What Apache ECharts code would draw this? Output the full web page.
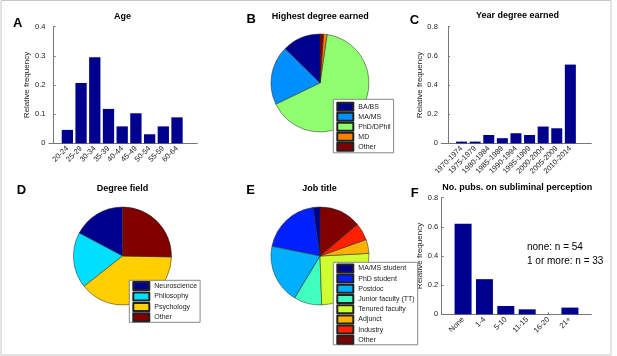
<!DOCTYPE html>
<html>
<head>
<meta charset="utf-8">
<script src="https://cdn.jsdelivr.net/npm/echarts@6/dist/echarts.min.js"></script>
<style>
  html, body { margin: 0; padding: 0; background: #fff; }
  #chart { width: 617px; height: 356px; }
</style>
</head>
<body>
<div id="chart"></div>
<script>
// panel A - age
const ageCats = ['20-24', '25-29', '30-34', '35-39', '40-44', '45-49', '50-54', '55-59', '60-64'];
const ageFreq = [0.046, 0.207, 0.295, 0.118, 0.058, 0.103, 0.031, 0.058, 0.089];
// panel B - highest degree
const degreeNames = ['BA/BS', 'MA/MS', 'PhD/DPhil', 'MD', 'Other'];
const degreeCounts = [11, 17, 57, 1, 1];
// panel C - year degree earned
const yearCats = ['1970-1974', '1975-1979', '1980-1984', '1985-1989', '1990-1994', '1995-1999', '2000-2004', '2005-2009', '2010-2014'];
const yearFreq = [0.0115, 0.0115, 0.057, 0.035, 0.069, 0.057, 0.115, 0.103, 0.54];
// panel D - degree field
const fieldNames = ['Neuroscience', 'Philosophy', 'Psychology', 'Other'];
const fieldCounts = [15, 16, 34, 22];
// panel E - job title
const jobNames = ['MA/MS student', 'PhD student', 'Postdoc', 'Junior faculty (TT)', 'Tenured faculty', 'Adjunct', 'Industry', 'Other'];
const jobCounts = [2, 17, 17, 8, 22, 4, 5, 12];
// panel F - publications
const pubCats = ['None', '1-4', '5-10', '11-15', '16-20', '21+'];
const pubFreq = [0.621, 0.241, 0.057, 0.034, 0, 0.046];
const pubNotes = ['none: n = 54', '1 or more: n = 33'];

const degreeColors = ['#00008f', '#008fff', '#8fff6f', '#ff8000', '#800000'];
const fieldColors = ['#00008f', '#00dfff', '#ffcf00', '#800000'];
const jobColors = ['#00008f', '#0020ff', '#00b0ff', '#40ffbf', '#cfff30', '#ffb000', '#ff2000', '#800000'];

const FONT = '"Liberation Sans", Arial, sans-serif';
const AXIS = '#777';
const BAR = '#00008f';

const chart = echarts.init(document.getElementById('chart'));

function barAxes(idx, cats, xMin, xMax, yMax, step, nameGap) {
  const ticks = cats.map((c, i) => i + 1);
  return {
    x: {
      type: 'value', gridIndex: idx, min: xMin, max: xMax,
      splitLine: {show: false},
      axisLine: {show: true, onZero: false, lineStyle: {color: AXIS, width: 1}},
      axisTick: {show: true, inside: true, length: 2, customValues: ticks, lineStyle: {color: AXIS}},
      axisLabel: {
        customValues: ticks, rotate: 45, margin: 4,
        fontSize: 7.5, color: '#222', fontFamily: FONT,
        formatter: v => cats[Math.round(v) - 1] || ''
      }
    },
    y: {
      type: 'value', gridIndex: idx, min: 0, max: yMax, interval: step,
      name: 'Relative frequency', nameLocation: 'middle', nameGap: nameGap,
      nameTextStyle: {fontSize: 8, color: '#222', fontFamily: FONT},
      splitLine: {show: false},
      axisLine: {show: true, lineStyle: {color: AXIS, width: 1}},
      axisTick: {show: true, inside: true, length: 2, lineStyle: {color: AXIS}},
      axisLabel: {
        margin: 3.5, fontSize: 7.5, color: '#222', fontFamily: FONT,
        formatter: v => String(+v.toFixed(1))
      }
    }
  };
}

const axA = barAxes(0, ageCats, -0.34, 10.48, 0.4, 0.1, 15);
const axC = barAxes(1, yearCats, -0.49, 10.54, 0.8, 0.2, 13.5);
const axF = barAxes(2, pubCats, 0, 7, 0.8, 0.2, 14.5);

function barSeries(idx, vals, w) {
  return {
    type: 'bar', xAxisIndex: idx, yAxisIndex: idx,
    data: vals.map((v, i) => [i + 1, v]),
    barWidth: w,
    itemStyle: {color: BAR},
    silent: true
  };
}

function pieSeries(names, counts, colors, cx, cy) {
  return {
    type: 'pie', center: [cx, cy], radius: 49,
    startAngle: 90, clockwise: false,
    label: {show: false}, labelLine: {show: false},
    emphasis: {disabled: true}, silent: true,
    itemStyle: {borderColor: '#222', borderWidth: 0.5},
    data: names.map((n, i) => ({name: n, value: counts[i], itemStyle: {color: colors[i]}}))
  };
}

function legendBox(names, left, top, width, height, gap, padding) {
  return {
    data: names, orient: 'vertical', left: left, top: top, width: width, height: height,
    icon: 'rect', itemWidth: 16, itemHeight: 8, itemGap: gap,
    padding: padding, borderColor: '#888', borderWidth: 1, backgroundColor: '#fff',
    selectedMode: false,
    textStyle: {fontSize: 7, color: '#222', fontFamily: FONT}
  };
}

function label(text, x, y, size, bold, align) {
  return {
    type: 'text', x: x, y: y, z: 100,
    style: {
      text: text, fontSize: size, fontWeight: bold ? 'bold' : 'normal',
      fontFamily: FONT, fill: '#000',
      textAlign: align || 'center', textVerticalAlign: 'middle'
    }
  };
}

chart.setOption({
  animation: false,
  backgroundColor: '#fff',
  grid: [
    {left: 49, top: 26.7, width: 148.3, height: 116.6, outerBoundsMode: 'none'},
    {left: 441.3, top: 26.7, width: 150, height: 116.6, outerBoundsMode: 'none'},
    {left: 441.7, top: 197.7, width: 149.6, height: 116.6, outerBoundsMode: 'none'}
  ],
  xAxis: [axA.x, axC.x, axF.x],
  yAxis: [axA.y, axC.y, axF.y],
  legend: [
    legendBox(degreeNames, 333.3, 99.3, 60, 60, 0, [2.5, 3, 1, 3]),
    legendBox(fieldNames, 129.3, 280.3, 70, 60, 0.4, [0.8, 3, 0, 3]),
    legendBox(jobNames, 333.3, 262.3, 90, 90, 0.2, [1.1, 3, 0, 3])
  ],
  series: [
    barSeries(0, ageFreq, 11.3),
    barSeries(1, yearFreq, 11),
    barSeries(2, pubFreq, 17),
    pieSeries(degreeNames, degreeCounts, degreeColors, 320, 83),
    pieSeries(fieldNames, fieldCounts, fieldColors, 122.5, 256),
    pieSeries(jobNames, jobCounts, jobColors, 320, 256)
  ],
  graphic: [
    {type: 'rect', shape: {x: 1, y: 0.5, width: 610, height: 354.5}, style: {fill: 'none', stroke: '#c8c8c8', lineWidth: 1}, silent: true},
    label('A', 17.7, 23.3, 13, true),
    label('B', 251.3, 19.3, 13, true),
    label('C', 414.5, 20.2, 13, true),
    label('D', 21.5, 190, 13, true),
    label('E', 250.5, 190, 13, true),
    label('F', 414.7, 193.4, 13, true),
    label('Age', 122.5, 16.5, 9, true),
    label('Highest degree earned', 320.3, 16.5, 9, true),
    label('Year degree earned', 517.5, 15.5, 9, true),
    label('Degree field', 122.5, 188.5, 9, true),
    label('Job title', 319.5, 188.5, 9, true),
    label('No. pubs. on subliminal perception', 517.3, 188, 9, true),
    label(pubNotes[0], 527, 247.5, 10, false, 'left'),
    label(pubNotes[1], 527, 261.5, 10, false, 'left')
  ]
});
</script>
</body>
</html>
